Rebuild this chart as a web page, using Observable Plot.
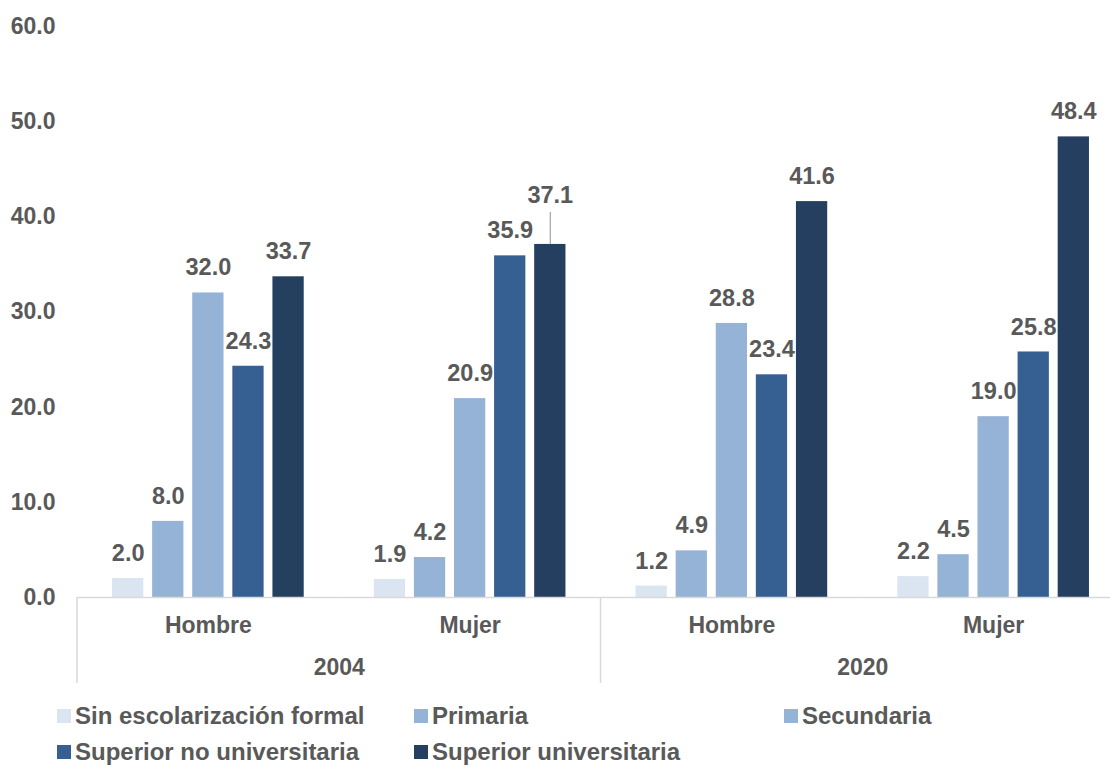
<!DOCTYPE html>
<html>
<head>
<meta charset="utf-8">
<script src="https://cdn.jsdelivr.net/npm/d3@7"></script>
<script src="https://cdn.jsdelivr.net/npm/@observablehq/plot@0.6"></script>
<style>
  html, body { margin: 0; padding: 0; background: #fff; width: 1110px; height: 767px; overflow: hidden; }
  #chart svg { display: block; max-width: none; }
  .legend {
    display: grid;
    grid-template-columns: 357px 370px auto;
    padding: 6px 0 0 57px;
    font: bold 24px "Liberation Sans", Arial, sans-serif;
    color: #595959;
    line-height: 36px;
    white-space: nowrap;
  }
  .legend .item { display: flex; align-items: center; }
  .legend .swatch { width: 14px; height: 14px; margin-right: 4px; flex: none; }
</style>
</head>
<body>
<div id="chart"></div>
<div class="legend" id="legend"></div>
<script>
// Education levels (series) and their fills
const levels = [
  "Sin escolarización formal",
  "Primaria",
  "Secundaria",
  "Superior no universitaria",
  "Superior universitaria"
];
const levelColors = ["#dbe5f1", "#95b3d7", "#95b3d7", "#366092", "#243f60"];

// Groups along the x axis: year and sex
const groupYears = ["2004", "2004", "2020", "2020"];
const groupSexes = ["Hombre", "Mujer", "Hombre", "Mujer"];

// Percentages per education level, one list per group
const values2004Hombre = [2.0, 8.0, 32.0, 24.3, 33.7];
const values2004Mujer  = [1.9, 4.2, 20.9, 35.9, 37.1];
const values2020Hombre = [1.2, 4.9, 28.8, 23.4, 41.6];
const values2020Mujer  = [2.2, 4.5, 19.0, 25.8, 48.4];

const yTicks = [0, 10, 20, 30, 40, 50, 60];

const FONT = '"Liberation Sans", Arial, sans-serif';

const groupKeys = groupYears.map((y, i) => `${y} ${groupSexes[i]}`);
const series = [values2004Hombre, values2004Mujer, values2020Hombre, values2020Mujer];
const rows = series.flatMap((vals, g) =>
  vals.map((v, k) => ({
    group: groupKeys[g],
    year: groupYears[g],
    sex: groupSexes[g],
    level: levels[k],
    value: v
  }))
);

const groupInfo = groupKeys.map((key, i) => ({group: key, year: groupYears[i], sex: groupSexes[i]}));
// Year captions sit centred under each pair of groups (on the Mujer facet's left edge)
const yearLabels = groupInfo.filter(d => d.sex === "Mujer");
// Each year block opens with a separator on the Hombre facet's left edge
const yearStarts = groupInfo.filter(d => d.sex === "Hombre");

// The 2004 Mujer "Superior universitaria" label is raised with a leader line
const isLifted = d => d.group === "2004 Mujer" && d.level === "Superior universitaria";

const labelStyle = {
  fx: "group",
  x: "level",
  y: "value",
  text: d => d.value.toFixed(1),
  fill: "#595959",
  fontSize: 23.5,
  lineAnchor: "middle"
};

const chart = Plot.plot({
  width: 1124,
  height: 692,
  marginLeft: 77,
  marginRight: 0,
  marginTop: 26,
  marginBottom: 95,
  style: {
    fontFamily: FONT,
    fontSize: "23px",
    fontWeight: "bold",
    color: "#595959",
    background: "#fff",
    overflow: "visible",
    maxWidth: "none"
  },
  fx: {
    domain: groupKeys,
    padding: 0,
    round: false,
    axis: "bottom",
    label: null,
    tickSize: 0,
    tickPadding: 19,
    tickFormat: k => k.split(" ")[1]
  },
  x: {domain: levels, paddingInner: 0.22, paddingOuter: 0.874, round: false, axis: null},
  y: {
    domain: [0, 60],
    ticks: yTicks,
    tickFormat: d => d.toFixed(1),
    tickSize: 0,
    tickPadding: 22,
    label: null
  },
  color: {domain: levels, range: levelColors},
  marks: [
    Plot.barY(rows, {fx: "group", x: "level", y: "value", fill: "level"}),
    Plot.ruleY([0], {stroke: "#d9d9d9", strokeWidth: 1.5}),
    Plot.ruleX(rows.filter(isLifted), {
      fx: "group", x: "level", y1: "value", y2: "value",
      insetTop: -32, stroke: "#a6a6a6", strokeWidth: 1.25
    }),
    Plot.text(rows.filter(d => !isLifted(d)), {...labelStyle, dy: -25}),
    Plot.text(rows.filter(isLifted), {...labelStyle, dy: -49}),
    Plot.text(yearLabels, {
      fx: "group",
      text: "year",
      frameAnchor: "bottom-left",
      textAnchor: "middle",
      lineAnchor: "middle",
      dy: 70,
      fill: "#595959"
    }),
    // Separators between the two years, hanging below the baseline
    Plot.ruleY(yearStarts, {
      fx: "group",
      y: () => 0,
      render: (index, scales, values, dims) => {
        if (!index.length) return null;
        const base = scales.y(0);
        const x0 = dims.marginLeft;
        return d3.create("svg:line")
          .attr("x1", x0).attr("x2", x0)
          .attr("y1", base).attr("y2", base + 86)
          .attr("stroke", "#d9d9d9")
          .attr("stroke-width", 1.5)
          .node();
      }
    })
  ]
});

document.getElementById("chart").appendChild(chart);

// Legend: three entries on the first row, two on the second
const legend = d3.select("#legend");
levels.forEach((name, i) => {
  const item = legend.append("div").attr("class", "item");
  item.append("span").attr("class", "swatch").style("background", levelColors[i]);
  item.append("span").text(name);
  if (i === 2) legend.append("div").style("grid-column", "1 / -1").style("height", "0");
});
</script>
</body>
</html>
